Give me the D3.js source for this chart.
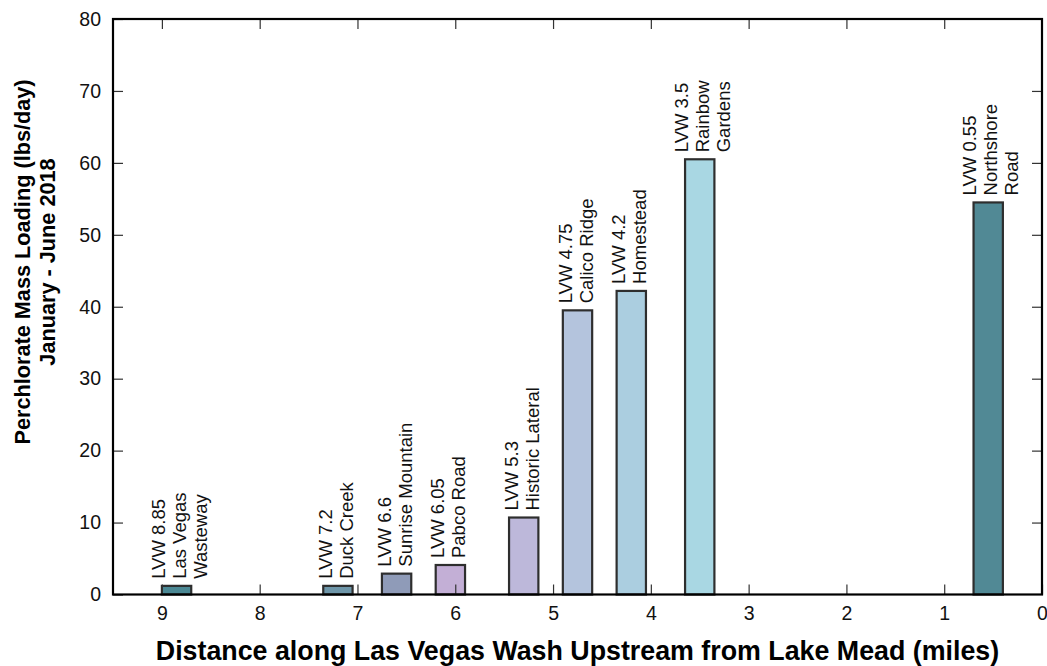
<!DOCTYPE html>
<html>
<head>
<meta charset="utf-8">
<script src="https://cdn.jsdelivr.net/npm/d3@7"></script>
<style>
  html, body { margin: 0; padding: 0; background: #fff; }
  svg { display: block; font-family: Arial, "Liberation Sans", sans-serif; }
</style>
</head>
<body>
<svg id="chart" width="1047" height="666"></svg>
<script>
// Monitoring stations along the Las Vegas Wash (miles upstream from Lake Mead)
const stationDistances = [8.85, 7.2, 6.6, 6.05, 5.3, 4.75, 4.2, 3.5, 0.55];
// Perchlorate mass loading, lbs/day, January - June 2018
const massLoading = [1.2, 1.2, 2.9, 4.1, 10.7, 39.5, 42.2, 60.5, 54.5];
// Station label lines
const stationLabels = [
  ["LVW 8.85", "Las Vegas", "Wasteway"],
  ["LVW 7.2", "Duck Creek"],
  ["LVW 6.6", "Sunrise Mountain"],
  ["LVW 6.05", "Pabco Road"],
  ["LVW 5.3", "Historic Lateral"],
  ["LVW 4.75", "Calico Ridge"],
  ["LVW 4.2", "Homestead"],
  ["LVW 3.5", "Rainbow", "Gardens"],
  ["LVW 0.55", "Northshore", "Road"]
];
const barColors = ["#4b8894", "#6e96a9", "#8f9bb8", "#c3afd6", "#bdb8da",
                   "#b4c4dd", "#abcee0", "#a9d7e3", "#518995"];
const xTickValues = [9, 8, 7, 6, 5, 4, 3, 2, 1, 0];
const yTickValues = [0, 10, 20, 30, 40, 50, 60, 70, 80];

const svg = d3.select("#chart");
const plotLeft = 113, plotRight = 1042, plotTop = 19, plotBottom = 594.5;

const x = d3.scaleLinear().domain([9.5, 0]).range([plotLeft, plotRight]);
const y = d3.scaleLinear().domain([0, 80]).range([plotBottom, plotTop]);
const barWidthMiles = 0.3;
const barW = Math.abs(x(0) - x(barWidthMiles));

// Bars
svg.append("g").selectAll("rect")
  .data(stationDistances)
  .join("rect")
  .attr("x", d => x(d) - barW / 2)
  .attr("width", barW)
  .attr("y", (d, i) => y(massLoading[i]))
  .attr("height", (d, i) => y(0) - y(massLoading[i]))
  .attr("fill", (d, i) => barColors[i])
  .attr("stroke", "#2e2e2e")
  .attr("stroke-width", 2.2);

// Station labels, rotated, stacked above each bar
const lineStep = 21;
svg.append("g").selectAll("text")
  .data(stationDistances)
  .join("text")
  .attr("transform", (d, i) => {
    const n = stationLabels[i].length;
    const bx = x(d) - 6 * (n - 1);
    return `translate(${bx},${y(massLoading[i]) - 7}) rotate(-90)`;
  })
  .attr("font-size", 18.5)
  .attr("fill", "#111")
  .each(function(d, i) {
    d3.select(this).selectAll("tspan")
      .data(stationLabels[i])
      .join("tspan")
      .attr("x", 0)
      .attr("y", (t, j) => j * lineStep)
      .text(t => t);
  });

// Axes with inward ticks on all four sides
const tickLen = 10;
const axisStyle = g => {
  g.attr("font-family", 'Arial, "Liberation Sans", sans-serif');
  g.select(".domain").remove();
  g.selectAll(".tick line").attr("stroke", "#333").attr("stroke-width", 1.2);
  g.selectAll(".tick text").attr("font-size", 19.5).attr("fill", "#111");
};

svg.append("g")
  .attr("transform", `translate(0,${plotBottom})`)
  .call(d3.axisBottom(x).tickValues(xTickValues).tickFormat(d3.format("d"))
    .tickSizeInner(-tickLen).tickSizeOuter(0).tickPadding(12))
  .call(axisStyle);

svg.append("g")
  .attr("transform", `translate(0,${plotTop})`)
  .call(d3.axisTop(x).tickValues(xTickValues.slice(0, -1)).tickFormat("")
    .tickSizeInner(-tickLen).tickSizeOuter(0))
  .call(axisStyle);

svg.append("g")
  .attr("transform", `translate(${plotLeft},0)`)
  .call(d3.axisLeft(y).tickValues(yTickValues).tickFormat(d3.format("d"))
    .tickSizeInner(-tickLen).tickSizeOuter(0).tickPadding(12))
  .call(axisStyle);

svg.append("g")
  .attr("transform", `translate(${plotRight},0)`)
  .call(d3.axisRight(y).tickValues(yTickValues.slice(1, -1)).tickFormat("")
    .tickSizeInner(-tickLen).tickSizeOuter(0))
  .call(axisStyle);

// Frame
svg.append("rect")
  .attr("x", plotLeft).attr("y", plotTop)
  .attr("width", plotRight - plotLeft).attr("height", plotBottom - plotTop)
  .attr("fill", "none").attr("stroke", "#000").attr("stroke-width", 2.2);

// Axis titles
svg.append("text")
  .attr("x", (plotLeft + plotRight) / 2).attr("y", 660)
  .attr("text-anchor", "middle")
  .attr("font-size", 26.8).attr("font-weight", "bold").attr("fill", "#000")
  .text("Distance along Las Vegas Wash Upstream from Lake Mead (miles)");

const yTitle = svg.append("text")
  .attr("transform", "translate(0,262) rotate(-90)")
  .attr("text-anchor", "middle")
  .attr("font-size", 21.7).attr("font-weight", "bold").attr("fill", "#000");
yTitle.append("tspan").attr("x", 0).attr("y", 29.5).text("Perchlorate Mass Loading (lbs/day)");
yTitle.append("tspan").attr("x", 0).attr("y", 54.5).text("January - June 2018");
</script>
</body>
</html>
